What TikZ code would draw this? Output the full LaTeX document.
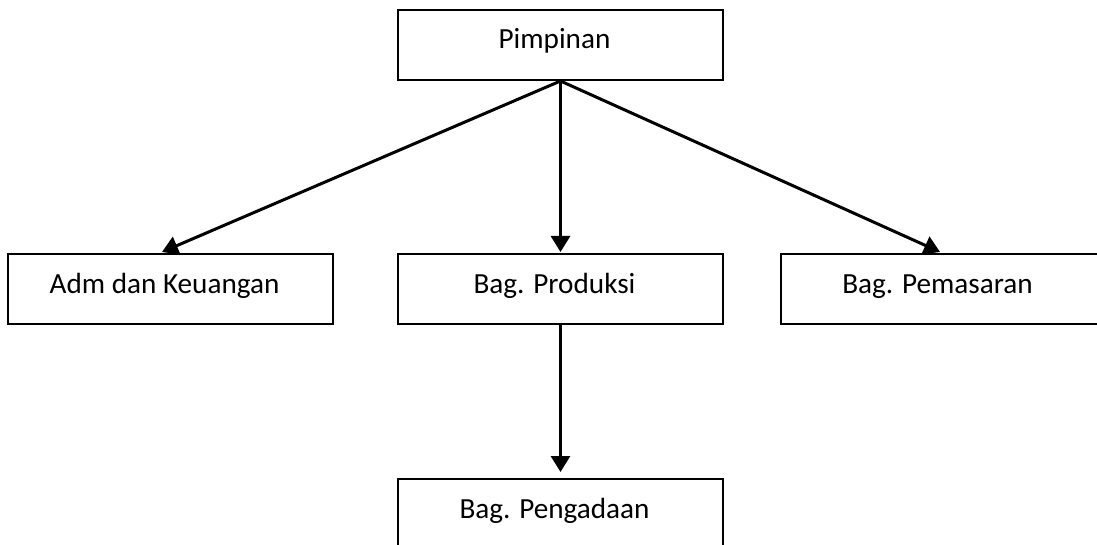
\documentclass[tikz,border=0pt]{standalone}
\usepackage{fontspec}
\setmainfont{Carlito}
\usetikzlibrary{arrows.meta,calc}
\begin{document}
\begin{tikzpicture}[x=0.5pt,y=-0.5pt,
  orgbox/.style={draw=black,line width=1pt,anchor=north,minimum width=162.5pt,
    inner xsep=0pt,inner ysep=0pt,text height=19.5pt,text depth=15.5pt,
    font=\fontsize{14.6}{17}\selectfont},
  conn/.style={line width=1.5pt,-{Triangle[length=8pt,width=9.5pt]}}]
\clip (0,0) rectangle (1097,545);
\fill[white] (0,0) rectangle (1097,545);
\node[orgbox] (pim) at (560.5,9) {Pimpinan\hspace*{6pt}};
\node[orgbox] (adm) at (170.5,253) {Adm dan Keuangan\hspace*{6pt}};
\node[orgbox] (prod) at (560.5,253) {Bag. Produksi\hspace*{6pt}};
\node[orgbox] (pem) at (943.5,253) {Bag. Pemasaran\hspace*{6pt}};
\node[orgbox] (peng) at (560.5,478) {Bag. Pengadaan\hspace*{6pt}};
\draw[conn] (pim.south) -- ([xshift=-4.25pt,yshift=0.5pt]adm.north);
\draw[conn] (pim.south) -- ([yshift=0.5pt]prod.north);
\draw[conn] (pim.south) -- ([xshift=-1.75pt,yshift=0.5pt]pem.north);
\draw[conn] (prod.south) -- ([yshift=3pt]peng.north);
\end{tikzpicture}
\end{document}
